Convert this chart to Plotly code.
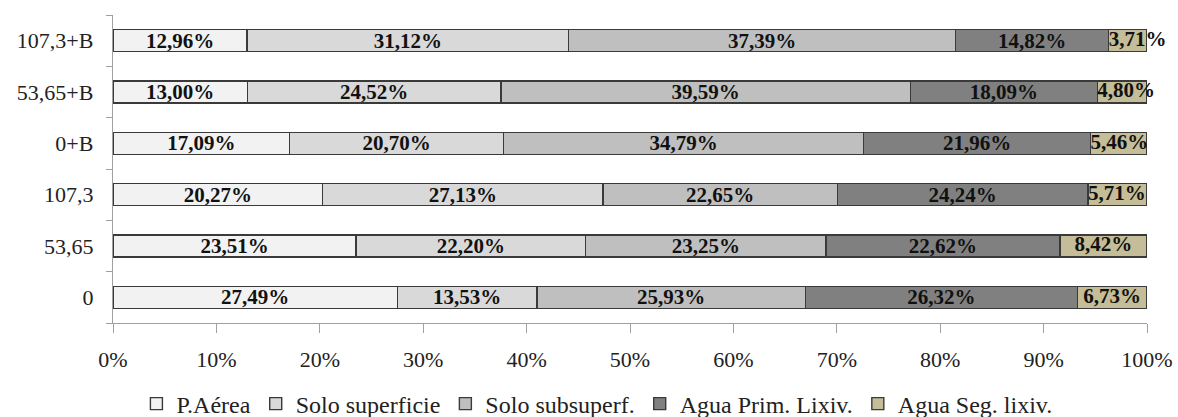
import numpy as np
import plotly.graph_objects as go

categories = ["0", "53,65", "107,3", "0+B", "53,65+B", "107,3+B"]

series_names = ["P.Aérea", "Solo superficie", "Solo subsuperf.",
                "Agua Prim. Lixiv.", "Agua Seg. lixiv."]

p_aerea = [27.49, 23.51, 20.27, 17.09, 13.00, 12.96]
solo_superficie = [13.53, 22.20, 27.13, 20.70, 24.52, 31.12]
solo_subsuperf = [25.93, 23.25, 22.65, 34.79, 39.59, 37.39]
agua_prim = [26.32, 22.62, 24.24, 21.96, 18.09, 14.82]
agua_seg = [6.73, 8.42, 5.71, 5.46, 4.80, 3.71]

x_ticks = [0, 10, 20, 30, 40, 50, 60, 70, 80, 90, 100]
x_tick_labels = [f"{t}%" for t in x_ticks]

series_values = [p_aerea, solo_superficie, solo_subsuperf, agua_prim, agua_seg]
colors = ["#F2F2F2", "#D9D9D9", "#BFBFBF", "#808080", "#C4BD97"]

SERIF = "Liberation Serif"
LABEL_FONT = dict(family=SERIF, size=21, color="#111111", weight="bold")


def pct(v):
    return f"{v:.2f}%".replace(".", ",")


fig = go.Figure()
last = len(series_names) - 1
for i, (name, vals, col) in enumerate(zip(series_names, series_values, colors)):
    fig.add_trace(go.Bar(
        y=categories,
        x=vals,
        name=name,
        orientation="h",
        marker=dict(color=col, line=dict(color="#3A3A3A", width=1.4)),
        text=None if i == last else [pct(v) for v in vals],
        textposition="inside",
        insidetextanchor="middle",
        textangle=0,
        constraintext="none",
        cliponaxis=False,
        textfont=LABEL_FONT,
        hoverinfo="skip",
    ))

# labels of the narrow last segment: centred when they fit, otherwise
# starting at the segment's left edge and running past the bar end
seg_start = np.sum(series_values[:last], axis=0)
seg_vals = np.array(agua_seg)
fits = seg_vals >= 6.5
label_x = np.where(fits, seg_start + seg_vals / 2, seg_start)
fig.add_trace(go.Scatter(
    y=categories,
    x=label_x,
    mode="text",
    text=[pct(v) for v in agua_seg],
    textposition=["middle center" if f else "middle right" for f in fits],
    textfont=LABEL_FONT,
    showlegend=False,
    cliponaxis=False,
    hoverinfo="skip",
))

fig.update_layout(
    barmode="stack",
    bargap=0.57,
    width=1178,
    height=417,
    margin=dict(l=113, r=31, t=15, b=94, autoexpand=False),
    paper_bgcolor="white",
    plot_bgcolor="white",
    font=dict(family=SERIF, color="#222222"),
    legend=dict(
        orientation="h",
        x=0.468, xanchor="center",
        y=-0.19, yanchor="top",
        font=dict(family=SERIF, size=24, color="#222222"),
        itemwidth=30,
        traceorder="normal",
    ),
    xaxis=dict(
        range=[0, 100],
        tickmode="array",
        tickvals=x_ticks,
        ticktext=x_tick_labels,
        showgrid=False,
        zeroline=False,
        showline=True,
        linecolor="#A0A0A0",
        linewidth=1.3,
        ticks="outside",
        ticklen=9,
        tickcolor="#A0A0A0",
        ticklabelstandoff=7,
        tickfont=dict(family=SERIF, size=22, color="#222222"),
    ),
    yaxis=dict(
        showgrid=False,
        showline=True,
        linecolor="#A0A0A0",
        linewidth=1.3,
        ticks="outside",
        tickson="boundaries",
        ticklen=6,
        tickcolor="#A0A0A0",
        ticklabelstandoff=14,
        tickfont=dict(family=SERIF, size=22, color="#222222"),
    ),
)

fig.write_html("out.html")
